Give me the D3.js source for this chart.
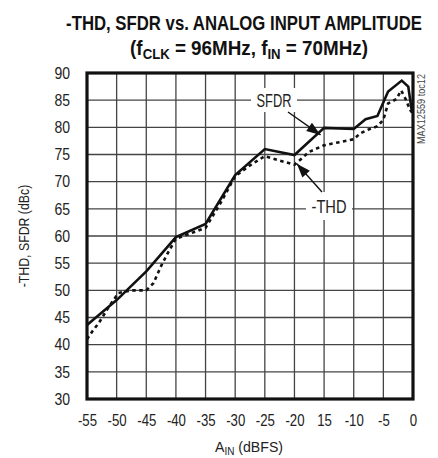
<!DOCTYPE html>
<html>
<head>
<meta charset="utf-8">
<script src="https://cdn.jsdelivr.net/npm/d3@7"></script>
<style>
  html, body { margin: 0; padding: 0; background: #fff; }
  svg { display: block; }
  text { font-family: "Liberation Sans", Arial, sans-serif; fill: #222; }
</style>
</head>
<body>
<svg id="chart" width="438" height="458"></svg>
<script>
// Input amplitude (dBFS) and measured SFDR (dBc)
const sfdrX = [-55, -50, -45, -40, -35, -30, -25, -20, -15, -10, -8, -6, -4.2, -1.9, -0.8, -0.2];
const sfdrY = [43.6, 48.2, 53.5, 59.8, 62.2, 71.2, 76.0, 74.9, 79.9, 79.7, 81.5, 82.1, 86.6, 88.6, 87.5, 83.0];

// Input amplitude (dBFS) and measured -THD (dBc)
const thdX = [-55, -54, -53, -51.3, -49.7, -47.5, -45, -43.8, -42.4, -41.2, -40, -35, -32.5, -30, -27.5, -25, -20, -17.5, -15, -10, -8.9, -7.5, -6, -5, -4.2, -2.8, -2, -1.2, -0.5, 0];
const thdY = [41.0, 42.6, 44.0, 47.0, 49.5, 50.0, 50.0, 51.3, 54.7, 57.2, 59.5, 61.5, 66.0, 71.0, 73.0, 74.7, 73.1, 75.5, 76.7, 77.8, 78.9, 79.6, 80.2, 81.4, 84.4, 85.2, 86.8, 85.1, 83.2, 82.5];

const xTicks = [-55, -50, -45, -40, -35, -30, -25, -20, -15, -10, -5, 0];
const xTickLabels = ["-55", "-50", "-45", "-40", "-35", "-30", "-25", "-20", "15", "-10", "-5", "0"];
const yTicks = [30, 35, 40, 45, 50, 55, 60, 65, 70, 75, 80, 85, 90];

const svg = d3.select("#chart");
const plot = { left: 87, right: 413, top: 73, bottom: 399 };

const x = d3.scaleLinear().domain([-55, 0]).range([plot.left, plot.right]);
const y = d3.scaleLinear().domain([30, 90]).range([plot.bottom, plot.top]);

// Squeeze a text element horizontally to mimic a condensed typeface
function condense(sel, k) {
  sel.each(function () {
    const w = this.getComputedTextLength();
    d3.select(this).attr("textLength", w * k).attr("lengthAdjust", "spacingAndGlyphs");
  });
}

// Squeeze a centred text to a target width with a horizontal scale
function fitWidth(sel, cx, cy, width) {
  const w = sel.node().getComputedTextLength();
  sel.attr("x", 0).attr("y", 0)
    .attr("transform", `translate(${cx},${cy}) scale(${width / w},1)`);
}

// Title
const title = svg.append("text")
  .attr("text-anchor", "middle")
  .attr("font-size", 21).attr("font-weight", "bold")
  .style("fill", "#111")
  .text("-THD, SFDR vs. ANALOG INPUT AMPLITUDE");
fitWidth(title, 244, 29.5, 356);

const sub = svg.append("text")
  .attr("text-anchor", "middle")
  .attr("font-size", 20).attr("font-weight", "bold")
  .style("fill", "#111");
sub.append("tspan").text("(f");
sub.append("tspan").attr("font-size", 14).attr("dy", 4).text("CLK");
sub.append("tspan").attr("dy", -4).text(" = 96MHz, f");
sub.append("tspan").attr("font-size", 14).attr("dy", 4).text("IN");
sub.append("tspan").attr("dy", -4).text(" = 70MHz)");
fitWidth(sub, 249, 55, 238);

// Grid
const grid = svg.append("g");
grid.selectAll("line.v").data(xTicks).join("line")
  .attr("x1", d => x(d)).attr("x2", d => x(d))
  .attr("y1", plot.top).attr("y2", plot.bottom)
  .attr("stroke", "#444").attr("stroke-width", 1.3);
grid.selectAll("line.h").data(yTicks).join("line")
  .attr("x1", plot.left).attr("x2", plot.right)
  .attr("y1", d => y(d)).attr("y2", d => y(d))
  .attr("stroke", "#444").attr("stroke-width", 1.3);

// Axes (labels only; the frame is drawn separately)
const xAxis = d3.axisBottom(x).tickValues(xTicks)
  .tickFormat((d, i) => xTickLabels[i]).tickSize(0).tickPadding(15);
const gx = svg.append("g").attr("transform", `translate(0,${plot.bottom})`).call(xAxis);
gx.select(".domain").remove();
gx.selectAll("text").attr("font-size", 16.5).style("font-family", null).style("fill", "#222");
condense(gx.selectAll("text"), 0.8);

const yAxis = d3.axisLeft(y).tickValues(yTicks).tickSize(0).tickPadding(17);
const gy = svg.append("g").attr("transform", `translate(${plot.left},0)`).call(yAxis);
gy.select(".domain").remove();
gy.selectAll("text").attr("font-size", 16.5).style("font-family", null).style("fill", "#222");
condense(gy.selectAll("text"), 0.85);

// Axis titles
const yt = svg.append("text")
  .attr("transform", "translate(29,236) rotate(-90)")
  .attr("text-anchor", "middle")
  .attr("font-size", 15)
  .text("-THD, SFDR (dBc)");
condense(yt, 0.82);

const xt = svg.append("text")
  .attr("x", 249).attr("y", 452)
  .attr("text-anchor", "middle")
  .attr("font-size", 15.5);
xt.append("tspan").text("A");
xt.append("tspan").attr("font-size", 11).attr("dy", 3).text("IN");
xt.append("tspan").attr("dy", -3).text(" (dBFS)");
xt.attr("textLength", 68).attr("lengthAdjust", "spacingAndGlyphs");

const tag = svg.append("text")
  .attr("transform", "translate(425,109) rotate(-90)")
  .attr("text-anchor", "middle")
  .attr("font-size", 11)
  .style("fill", "#444")
  .text("MAX12559 toc12");
tag.attr("textLength", 70).attr("lengthAdjust", "spacingAndGlyphs");

// Curves
const line = d3.line().x(d => x(d[0])).y(d => y(d[1]));
svg.append("path")
  .datum(d3.zip(thdX, thdY))
  .attr("d", line)
  .attr("fill", "none").attr("stroke", "#111")
  .attr("stroke-width", 2.6).attr("stroke-dasharray", "3.5,3.5");
svg.append("path")
  .datum(d3.zip(sfdrX, sfdrY))
  .attr("d", line)
  .attr("fill", "none").attr("stroke", "#111")
  .attr("stroke-width", 2.6).attr("stroke-linejoin", "miter");

// Frame
svg.append("rect")
  .attr("x", plot.left).attr("y", plot.top)
  .attr("width", plot.right - plot.left).attr("height", plot.bottom - plot.top)
  .attr("fill", "none").attr("stroke", "#111").attr("stroke-width", 3.2);

// Curve labels with arrows
function callout(label, cx, cy, w, h, from, to) {
  svg.append("rect")
    .attr("x", cx - w / 2).attr("y", cy - h / 2)
    .attr("width", w).attr("height", h).attr("fill", "#fff");
  const t = svg.append("text")
    .attr("x", cx).attr("y", cy + 6.5)
    .attr("text-anchor", "middle").attr("font-size", 17.5)
    .text(label);
  t.attr("textLength", 35).attr("lengthAdjust", "spacingAndGlyphs");
  svg.append("line")
    .attr("x1", from[0]).attr("y1", from[1])
    .attr("x2", to[0]).attr("y2", to[1])
    .attr("stroke", "#111").attr("stroke-width", 1.4);
  const ang = Math.atan2(to[1] - from[1], to[0] - from[0]);
  const L = 14, W = 5;
  const bx = to[0] - L * Math.cos(ang), by = to[1] - L * Math.sin(ang);
  const px = -Math.sin(ang) * W, py = Math.cos(ang) * W;
  svg.append("path")
    .attr("d", `M${to[0]},${to[1]} L${bx + px},${by + py} L${bx - px},${by - py} Z`)
    .attr("fill", "#111");
}

callout("SFDR", 274, 100, 46, 24, [288, 112], [x(-15.6), y(78.6)]);
callout("-THD", 329, 206, 46, 28, [322, 192], [x(-19.6), y(73.3)]);
</script>
</body>
</html>
